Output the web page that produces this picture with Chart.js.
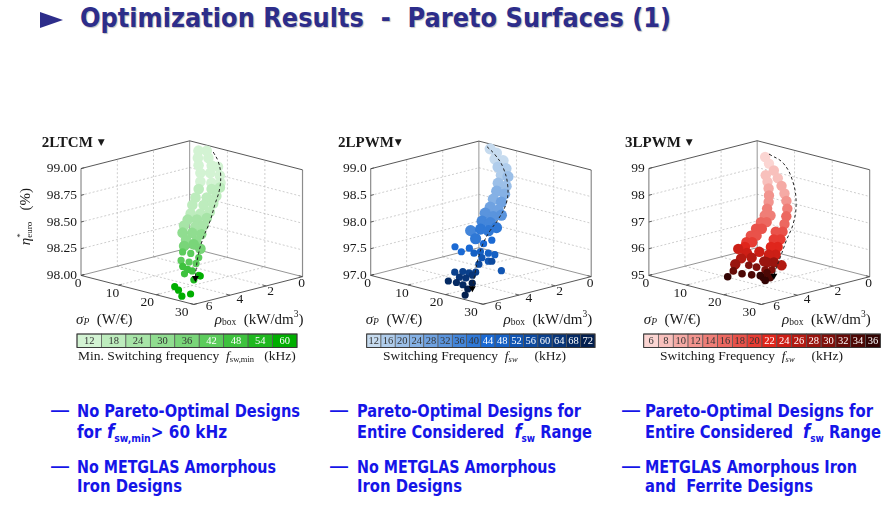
<!DOCTYPE html>
<html>
<head>
<meta charset="utf-8">
<title>Optimization Results - Pareto Surfaces (1)</title>
<script src="https://cdn.jsdelivr.net/npm/chart.js@4.4.1/dist/chart.umd.min.js"></script>
<style>
  html, body { margin: 0; padding: 0; background: #fff; }
  body { position: relative; width: 887px; height: 510px; overflow: hidden; }
  .fit { position: absolute; white-space: nowrap; transform-origin: 0 50%; }
  #title { left: 80px; top: 2px; line-height: 34px; font: bold 27px "Liberation Sans Narrow", "DejaVu Sans Condensed", "Liberation Sans", sans-serif; color: #2d2d8a; text-shadow: 1px 1px 1px rgba(0,0,0,0.25); }
  #tri { position: absolute; left: 40px; top: 12px; width: 0; height: 0; border-left: 23px solid #2d2d8a; border-top: 8.5px solid transparent; border-bottom: 8.5px solid transparent; }
  .bl { line-height: 20px; font: bold 18px "Liberation Sans Narrow", "DejaVu Sans Condensed", "Liberation Sans", sans-serif; color: #1515e8; }
  .bl i { font-size: 20px; }
  .bl sub { font-size: 11px; vertical-align: -4px; }
  .dash { position: absolute; line-height: 20px; font: bold 18px "Liberation Sans", sans-serif; color: #1515e8; }
  canvas { position: absolute; top: 125px; }
</style>
</head>
<body>
<div id="tri"></div>
<div id="title" class="fit" data-w="591">Optimization Results&nbsp; - &nbsp;Pareto Surfaces (1)</div>

<canvas id="tcm" width="320" height="245" style="left:0px"></canvas>
<canvas id="pwm2" width="300" height="245" style="left:300px"></canvas>
<canvas id="pwm3" width="287" height="245" style="left:600px"></canvas>

<div class="dash" style="left:51px;top:400px">—</div>
<div class="bl fit" style="left:77px;top:400px" data-w="223">No Pareto-Optimal Designs</div>
<div class="bl fit" style="left:77px;top:419px" data-w="150">for <i>f</i><sub>sw,min</sub>&gt; 60 kHz</div>
<div class="dash" style="left:51px;top:456px">—</div>
<div class="bl fit" style="left:77px;top:456px" data-w="199">No METGLAS Amorphous</div>
<div class="bl fit" style="left:77px;top:475px" data-w="105">Iron Designs</div>

<div class="dash" style="left:330px;top:400px">—</div>
<div class="bl fit" style="left:357px;top:400px" data-w="224">Pareto-Optimal Designs for</div>
<div class="bl fit" style="left:357px;top:419px" data-w="235">Entire Considered&nbsp; <i>f</i><sub>sw</sub> Range</div>
<div class="dash" style="left:330px;top:456px">—</div>
<div class="bl fit" style="left:357px;top:456px" data-w="199">No METGLAS Amorphous</div>
<div class="bl fit" style="left:357px;top:475px" data-w="105">Iron Designs</div>

<div class="dash" style="left:622px;top:400px">—</div>
<div class="bl fit" style="left:645px;top:400px" data-w="228">Pareto-Optimal Designs for</div>
<div class="bl fit" style="left:645px;top:419px" data-w="236">Entire Considered&nbsp; <i>f</i><sub>sw</sub> Range</div>
<div class="dash" style="left:622px;top:456px">—</div>
<div class="bl fit" style="left:645px;top:456px" data-w="212">METGLAS Amorphous Iron</div>
<div class="bl fit" style="left:645px;top:475px" data-w="168">and&nbsp; Ferrite Designs</div>

<script>
// shared axes
const sigmaTicks = [0, 10, 20, 30];      // sigma_P (W/€)
const rhoTicks = [0, 2, 4, 6];           // rho_box (kW/dm³)

// ---- 2LTCM : points are [sigma_P, rho_box, eta_euro] grouped by min. switching frequency
const tcmFsw = [12, 18, 24, 30, 36, 42, 48, 54, 60];
const tcmEtaTicks = [98.00, 98.25, 98.50, 98.75, 99.00];
const tcmPoints = [
  [[4.6,0.47,98.97],[5.8,0.26,98.97],[5.5,0.69,98.92],[6.9,0.40,98.92],[6.7,0.90,98.87],[8.5,0.55,98.87],[9.5,0.41,98.86],
   [8.1,1.09,98.82],[9.4,0.82,98.82],[10.9,0.60,98.80],[9.2,1.32,98.76],[10.8,1.04,98.75],[12.0,0.79,98.75]],
  [[10.1,1.60,98.71],[11.8,1.24,98.71],[12.7,0.97,98.72],[10.8,1.92,98.65],[12.3,1.61,98.65],[13.3,1.29,98.66],
   [11.5,2.24,98.60],[13.0,1.93,98.60],[14.0,1.61,98.61],[12.4,2.52,98.54],[13.7,2.25,98.54],[14.7,1.94,98.55]],
  [[12.9,2.79,98.50],[14.1,2.53,98.50],[15.2,2.21,98.51],[13.3,3.07,98.46],[14.9,2.78,98.45],[15.9,2.53,98.46]],
  [[14.0,3.30,98.41],[15.4,3.06,98.41],[16.8,2.85,98.40],[15.5,3.42,98.36],[17.0,3.17,98.35]],
  [[16.1,3.65,98.32],[17.1,3.33,98.33],[18.6,3.27,98.30]],
  [[16.8,3.88,98.28],[18.1,3.70,98.27],[19.6,3.57,98.24],[17.7,4.15,98.22],[19.0,3.98,98.21],[20.1,3.82,98.20]],
  [[18.8,4.29,98.18],[19.9,4.25,98.16],[20.7,4.16,98.15],[20.1,4.46,98.13]],
  [[22.2,4.11,98.12],[22.2,4.38,98.09]],
  [[18.8,4.73,98.01],[21.1,5.00,98.01],[24.7,5.56,98.01],[24.7,5.08,98.01],[18.9,3.34,98.05]]
];
const tcmFront = [[6.75,0.10,98.96],[8.64,0.23,98.90],[10.76,0.53,98.82],[12.87,1.02,98.71],[14.46,1.62,98.60],
  [16.06,2.21,98.49],[17.44,2.86,98.38],[19.03,3.46,98.27],[20.92,3.99,98.16],[22.09,4.27,98.10]];

// ---- 2LPWM
const pwm2Fsw = [12, 16, 20, 24, 28, 32, 36, 40, 44, 48, 52, 56, 60, 64, 68, 72];
const pwm2EtaTicks = [97.0, 97.5, 98.0, 98.5, 99.0];
const pwm2Points = [
  [[4.7,0.35,98.97],[6.1,0.29,98.91],[6.8,0.52,98.83],[8.1,0.34,98.81]],
  [[8.3,0.66,98.72],[9.6,0.49,98.70],[9.9,0.81,98.61]],
  [[11.0,0.67,98.59],[10.6,1.13,98.50],[12.1,1.00,98.46]],
  [[11.5,1.40,98.39],[13.0,1.27,98.35],[12.2,1.73,98.28]],
  [[13.7,1.60,98.24],[12.9,2.05,98.17],[14.4,1.92,98.13]],
  [[13.1,2.37,98.09],[14.6,2.24,98.04],[15.5,1.97,98.06]],
  [[13.8,2.69,97.98],[15.1,2.51,97.96],[13.6,3.28,97.85]],
  [[14.7,2.96,97.87],[16.0,2.79,97.85],[16.6,2.47,97.89],[15.4,3.38,97.74]],
  [[13.8,4.19,97.63],[15.3,4.15,97.56],[15.9,3.83,97.61],[17.1,3.29,97.67],[17.8,2.98,97.72]],
  [[17.2,3.84,97.54],[17.8,3.61,97.56],[19.1,3.44,97.54],[20.2,3.31,97.52]],
  [[18.9,3.76,97.48],[20.2,3.67,97.43],[23.3,3.59,97.30]],
  [[20.7,3.58,97.43],[19.4,4.03,97.39]],
  [[17.3,4.93,97.28],[18.3,4.69,97.29],[19.3,4.55,97.27],[20.1,4.35,97.28]],
  [[18.6,4.94,97.21],[19.6,4.79,97.20],[20.1,4.53,97.24]],
  [[17.7,5.37,97.16],[19.0,5.19,97.14],[20.2,5.08,97.11]],
  [[21.4,5.06,97.05],[23.4,5.62,97.02],[21.2,4.77,97.13]]
];
const pwm2Front = [[3.93,0.37,99.0],[6.11,0.38,98.89],[8.97,0.53,98.72],[12.29,0.95,98.46],[14.54,1.51,98.22],
  [15.71,2.20,98.00],[16.2,2.74,97.85],[17.05,3.31,97.67],[18.60,3.92,97.45],[20.41,4.47,97.24],[21.90,4.91,97.06]];

// ---- 3LPWM
const pwm3Fsw = [6, 8, 10, 12, 14, 16, 18, 20, 22, 24, 26, 28, 30, 32, 34, 36];
const pwm3EtaTicks = [95, 96, 97, 98, 99];
const pwm3Points = [
  [[5.45,0.69,98.71],[6.90,0.78,98.53]],
  [[8.48,0.84,98.34],[10.07,0.95,98.13],[8.06,1.20,98.21],[9.26,1.35,98.03]],
  [[11.65,1.07,97.92],[13.11,1.21,97.71],[10.32,1.51,97.85]],
  [[14.44,1.38,97.51],[11.33,1.70,97.66],[12.20,1.90,97.48]],
  [[15.64,1.58,97.30],[12.95,2.14,97.30],[13.57,2.40,97.11],[14.34,2.24,97.11]],
  [[16.58,1.83,97.09],[17.40,2.10,96.88],[13.99,2.70,96.93],[14.76,2.54,96.93]],
  [[18.22,2.38,96.67],[17.32,2.57,96.67],[14.29,3.03,96.75],[14.53,3.37,96.56],[15.06,2.87,96.75],[15.30,3.21,96.56]],
  [[19.03,2.66,96.46],[18.13,2.85,96.46],[14.89,3.69,96.38],[15.66,3.53,96.38]],
  [[19.72,2.96,96.25],[18.82,3.15,96.25],[15.38,3.98,96.20],[15.37,3.87,96.25]],
  [[20.54,3.24,96.04],[19.64,3.43,96.04],[14.74,4.11,96.20],[16.43,3.98,96.09],[17.96,3.61,96.12]],
  [[16.46,4.31,95.94],[17.74,3.99,95.96],[22.78,3.38,95.75]],
  [[21.35,3.51,95.83],[20.45,3.70,95.83],[19.94,3.75,95.86],[16.50,4.64,95.78]],
  [[22.17,3.79,95.62],[21.27,3.98,95.62],[18.43,4.29,95.75],[19.72,4.13,95.70]],
  [[17.18,4.89,95.60]],
  [[22.99,4.06,95.41],[22.09,4.25,95.41],[18.74,4.73,95.52],[20.15,4.49,95.49],[21.93,4.01,95.55]],
  [[17.22,5.21,95.44],[21.44,4.28,95.47],[22.75,4.28,95.34]]
];
const pwm3Front = [[5.56,0.50,98.79],[8.82,0.37,98.53],[12.79,0.66,98.00],[16.25,1.22,97.40],[18.55,1.86,96.88],
  [19.93,2.52,96.43],[21.45,3.16,95.99],[22.55,3.65,95.65],[23.23,3.90,95.47]];

// palettes
const greens = ['#d3f3d3','#bdecbd','#a7e4a7','#90dd90','#79d579','#5ccc5c','#3ec23e','#1fb81f','#00ae00'];
const blues = ['#c6dbef','#b0cdec','#9bbfe8','#85b1e5','#6fa2e1','#5a94dd','#4486da','#2f78d6',
               '#1a69d3','#1560c4','#1155b2','#0d4a9f','#0a408c','#083578','#052a63','#031f4e'];
const reds = ['#fbd5d2','#f8c0bc','#f5aaa5','#f2948e','#ef7e77','#ec6860','#e9524a','#e63c33',
              '#e0261c','#cc1f16','#b31a12','#99150f','#80100b','#660c08','#4d0805','#330403'];

// fitting of the slide text to the original line widths
document.querySelectorAll('.fit').forEach(el => {
  const w = el.getBoundingClientRect().width;
  el.style.transform = 'scaleX(' + (el.dataset.w / w) + ')';
});

// projection of the 3D box (px-like view units)
const SIG_MAX = 30, RHO_MAX = 6;
const SX = 116.7, SY = 30.3, RX = 112.4, RY = 29, HZ = 111.7;
const BY = 122.7, CH = 245;
const SERIF = '"Liberation Serif", "DejaVu Serif", serif';

function toView(p, e0, e1) {
  const s = p[0] / SIG_MAX, r = p[1] / RHO_MAX, h = (p[2] - e0) / (e1 - e0);
  return { x: s * SX - r * RX, y: h * HZ - s * SY - r * RY };
}

function drawRich(ctx, x, y, parts, align) {
  let total = 0;
  parts.forEach(p => { ctx.font = p[1]; p.w = ctx.measureText(p[0]).width; if (!p[3]) total += p.w; });
  let cx = align === 'right' ? x - total : align === 'center' ? x - total / 2 : x;
  parts.forEach(p => { ctx.font = p[1]; ctx.fillText(p[0], cx, y + (p[2] || 0)); if (!p[3]) cx += p.w; });
}

function seg(ctx, a, b) {
  ctx.beginPath(); ctx.moveTo(a[0], a[1]); ctx.lineTo(b[0], b[1]); ctx.stroke();
}
function poly(ctx, pts) {
  ctx.beginPath(); ctx.moveTo(pts[0][0], pts[0][1]);
  pts.slice(1).forEach(q => ctx.lineTo(q[0], q[1])); ctx.stroke();
}

function makeBoxPlugin(pn) {
  const proj = chart => (s, r, e) => {
    const v = toView([s, r, e], pn.etaMin, pn.etaMax);
    return [chart.scales.x.getPixelForValue(v.x), chart.scales.y.getPixelForValue(v.y)];
  };
  return {
    id: 'box3d',
    beforeDatasetsDraw(chart) {
      const ctx = chart.ctx, P = proj(chart), e0 = pn.etaMin, e1 = pn.etaMax;
      const S = SIG_MAX, R = RHO_MAX;
      ctx.save();
      // dashed grid on the two back walls and the floor
      ctx.strokeStyle = '#b9b9b9'; ctx.lineWidth = 0.7; ctx.setLineDash([2, 2]);
      pn.etaTicks.forEach(e => {
        if (e > e0 && e < e1) { seg(ctx, P(0, R, e), P(0, 0, e)); seg(ctx, P(0, 0, e), P(S, 0, e)); }
      });
      rhoTicks.forEach(r => {
        if (r > 0 && r < R) { seg(ctx, P(0, r, e0), P(0, r, e1)); seg(ctx, P(0, r, e0), P(S, r, e0)); }
      });
      sigmaTicks.forEach(s => {
        if (s > 0 && s < S) { seg(ctx, P(s, 0, e0), P(s, 0, e1)); seg(ctx, P(s, R, e0), P(s, 0, e0)); }
      });
      // box frame
      ctx.setLineDash([]);
      ctx.strokeStyle = '#7a7a7a'; ctx.lineWidth = 0.8;
      poly(ctx, [P(0, R, e0), P(0, 0, e0), P(S, 0, e0)]);
      seg(ctx, P(0, 0, e0), P(0, 0, e1));
      ctx.strokeStyle = '#8c8c8c'; ctx.lineWidth = 1.2;
      seg(ctx, P(0, R, e0), P(0, R, e1));
      seg(ctx, P(S, 0, e0), P(S, 0, e1));
      ctx.strokeStyle = '#444'; ctx.lineWidth = 0.9;
      poly(ctx, [P(0, R, e1), P(0, 0, e1), P(S, 0, e1)]);
      poly(ctx, [P(0, R, e0), P(S, R, e0), P(S, 0, e0)]);
      // ticks
      ctx.strokeStyle = '#444'; ctx.lineWidth = 0.8;
      pn.etaTicks.forEach(e => seg(ctx, P(0, R, e), P(0, R - 0.18, e)));
      sigmaTicks.forEach(s => seg(ctx, P(s, R, e0), P(s, R - 0.18, e0)));
      rhoTicks.forEach(r => seg(ctx, P(S, r, e0), P(S - 1, r, e0)));
      ctx.restore();
    },
    afterDatasetsDraw(chart) {
      const ctx = chart.ctx, P = proj(chart), e0 = pn.etaMin;
      const S = SIG_MAX, R = RHO_MAX;
      ctx.save();
      ctx.fillStyle = '#1a1a1a'; ctx.textBaseline = 'middle';
      // tick labels
      ctx.font = '13.5px ' + SERIF; ctx.textAlign = 'right';
      pn.etaTicks.forEach(e => {
        const q = P(0, R, e);
        ctx.fillText(e.toFixed(pn.digits), q[0] - 4, q[1]);
      });
      ctx.textAlign = 'center';
      sigmaTicks.forEach(s => {
        const q = P(s, R, e0);
        ctx.fillText(String(s), q[0] - 3 - 0.3 * s, q[1] + 8);
      });
      rhoTicks.forEach(r => {
        const q = P(S, r, e0);
        ctx.fillText(String(r), q[0] - 1 + 2.7 * r, q[1] + 7 - 0.8 * r);
      });
      ctx.textAlign = 'left';
      // axis titles
      const left = P(0, R, e0), right = P(S, 0, e0), back = P(0, 0, e0);
      drawRich(ctx, left[0] - 5, back[1] + 72, [
        ['σ', 'italic 15px ' + SERIF], ['P', 'italic 9.5px ' + SERIF, 3], ['  (W/€)', '15px ' + SERIF]
      ], 'left');
      drawRich(ctx, right[0] + 1, back[1] + 72, [
        ['ρ', 'italic 15px ' + SERIF], ['box', '9.5px ' + SERIF, 3], ['  (kW/dm', '15px ' + SERIF],
        ['3', '9.5px ' + SERIF, -5], [')', '15px ' + SERIF]
      ], 'right');
      if (pn.etaLabel) {
        ctx.save();
        ctx.translate(26, 91.7); ctx.rotate(-Math.PI / 2);
        drawRich(ctx, 0, 0, [
          ['η', 'italic 15px ' + SERIF], ['*', '9px ' + SERIF, -5, true], ['euro', '9px ' + SERIF, 4],
          ['   (%)', '15px ' + SERIF]
        ], 'center');
        ctx.restore();
      }
      // panel name
      ctx.font = 'bold 15px ' + SERIF;
      ctx.fillText(pn.title, pn.titleX, 17.7);
      const tw = ctx.measureText(pn.title).width;
      ctx.font = '9px "DejaVu Sans", sans-serif';
      ctx.fillText('▼', pn.titleX + tw + pn.gap, 17.2);
      // colour bar of the switching frequency
      const n = pn.fsw.length, cw = (pn.barX1 - pn.barX0) / n, y0 = 209, hb = 13.5;
      ctx.textAlign = 'center';
      pn.fsw.forEach((f, i) => {
        const x = pn.barX0 + i * cw;
        ctx.fillStyle = pn.colors[i];
        ctx.fillRect(x, y0, cw, hb);
        ctx.strokeStyle = '#555'; ctx.lineWidth = 0.7;
        ctx.strokeRect(x, y0, cw, hb);
        ctx.fillStyle = i >= pn.lightFrom ? '#ffffff' : '#333333';
        ctx.font = '10.5px ' + SERIF;
        ctx.fillText(String(f), x + cw / 2, y0 + hb / 2 + 0.5);
      });
      ctx.strokeStyle = '#333'; ctx.lineWidth = 0.9;
      ctx.strokeRect(pn.barX0, y0, pn.barX1 - pn.barX0, hb);
      ctx.fillStyle = '#1a1a1a'; ctx.textAlign = 'left';
      drawRich(ctx, pn.capX, 231.5, pn.caption, 'left');
      ctx.restore();
    }
  };
}

const panels = [
  { id: 'tcm', w: 320, bx: 190.7, etaMin: 98, etaMax: 99, etaTicks: tcmEtaTicks, digits: 2,
    fsw: tcmFsw, groups: tcmPoints, front: tcmFront, colors: greens, lightFrom: 5,
    bigUntil: 5, rBig: 5.3, rSmall: 3.6,
    title: '2LTCM', titleX: 41.7, gap: 5, barX0: 77, barX1: 297, capX: 78, etaLabel: true,
    caption: [['Min. Switching frequency  ', '13.5px ' + SERIF], ['f', 'italic 13.5px ' + SERIF],
              ['sw,min', '8.5px ' + SERIF, 3], ['   (kHz)', '13.5px ' + SERIF]] },
  { id: 'pwm2', w: 300, bx: 180, etaMin: 97, etaMax: 99, etaTicks: pwm2EtaTicks, digits: 1,
    fsw: pwm2Fsw, groups: pwm2Points, front: pwm2Front, colors: blues, lightFrom: 8,
    bigUntil: 8, rBig: 5.6, rSmall: 3.6,
    title: '2LPWM', titleX: 38, gap: 1, barX0: 66.7, barX1: 295, capX: 83, etaLabel: false,
    caption: [['Switching Frequency  ', '13.5px ' + SERIF], ['f', 'italic 13.5px ' + SERIF],
              ['sw', 'italic 8.5px ' + SERIF, 3], ['     (kHz)', '13.5px ' + SERIF]] },
  { id: 'pwm3', w: 287, bx: 157.7, etaMin: 95, etaMax: 99, etaTicks: pwm3EtaTicks, digits: 0,
    fsw: pwm3Fsw, groups: pwm3Points, front: pwm3Front, colors: reds, lightFrom: 8,
    bigUntil: 12, rBig: 5.2, rSmall: 3.8,
    title: '3LPWM', titleX: 25, gap: 5, barX0: 43.7, barX1: 280.3, capX: 60, etaLabel: false,
    caption: [['Switching Frequency  ', '13.5px ' + SERIF], ['f', 'italic 13.5px ' + SERIF],
              ['sw', 'italic 8.5px ' + SERIF, 3], ['     (kHz)', '13.5px ' + SERIF]] }
];

panels.forEach(pn => {
  const n = pn.groups.length;
  const datasets = pn.groups.map((g, i) => ({
    label: pn.fsw[i] + ' kHz',
    data: g.map(p => toView(p, pn.etaMin, pn.etaMax)),
    backgroundColor: pn.colors[i],
    borderWidth: 0,
    pointRadius: i < pn.bigUntil ? pn.rBig : pn.rSmall,
    order: n - i
  }));
  const frontPts = pn.front.map(p => toView(p, pn.etaMin, pn.etaMax));
  datasets.push({
    label: 'front', data: frontPts, showLine: true, tension: 0.4,
    borderColor: '#222', borderWidth: 1, borderDash: [3, 2.5], pointRadius: 0, order: 0
  });
  datasets.push({
    label: 'arrow', data: frontPts.slice(-1), pointStyle: 'triangle', rotation: 180,
    pointRadius: 4, backgroundColor: '#000', borderColor: '#000', borderWidth: 0, order: -1
  });
  new Chart(pn.id, {
    type: 'scatter',
    data: { datasets: datasets },
    options: {
      responsive: false, animation: false, events: [],
      layout: { padding: 0 },
      plugins: { legend: { display: false }, tooltip: { enabled: false } },
      scales: {
        x: { type: 'linear', display: false, min: -pn.bx, max: pn.w - pn.bx },
        y: { type: 'linear', display: false, min: BY - CH, max: BY }
      }
    },
    plugins: [makeBoxPlugin(pn)]
  });
});
</script>
</body>
</html>
